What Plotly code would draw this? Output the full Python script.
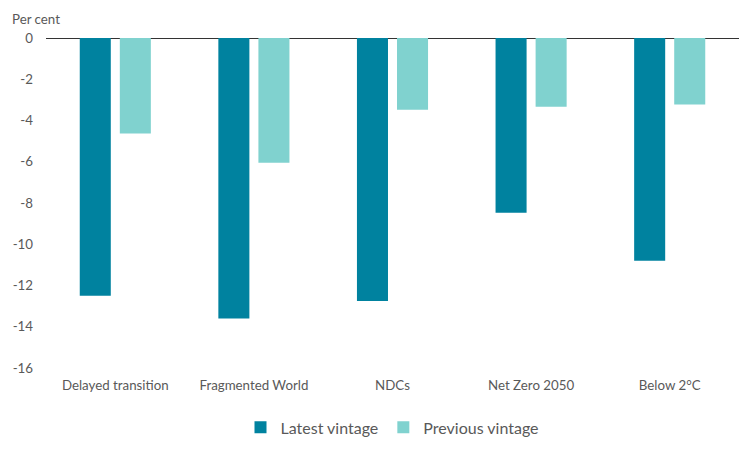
import plotly.graph_objects as go

# Scenario categories and the two vintages (per cent)
scenarios = ["Delayed transition", "Fragmented World", "NDCs", "Net Zero 2050", "Below 2°C"]
latest_vintage = [-12.5, -13.6, -12.75, -8.47, -10.8]
previous_vintage = [-4.63, -6.05, -3.48, -3.33, -3.23]
y_ticks = [0, -2, -4, -6, -8, -10, -12, -14, -16]

fig = go.Figure()
fig.add_trace(go.Bar(x=scenarios, y=latest_vintage, name="Latest vintage",
                     marker=dict(color="#00829F", line=dict(width=0))))
fig.add_trace(go.Bar(x=scenarios, y=previous_vintage, name="Previous vintage",
                     marker=dict(color="#80D2CF", line=dict(width=0))))

# page body has an 8px margin, so the figure is sized to fit inside the window
fig.update_layout(
    width=740, height=434,
    margin=dict(l=38, r=9, t=30, b=74, autoexpand=False),
    paper_bgcolor="white", plot_bgcolor="white",
    font=dict(family="Lato", size=13, color="#595959"),
    barmode="group", bargap=0.422, bargroupgap=0.225,
    showlegend=True,
    legend=dict(orientation="h", x=0.5, xanchor="center", y=-0.18, yanchor="middle",
                font=dict(size=16), itemwidth=30, traceorder="normal"),
    annotations=[dict(text="Per cent", xref="paper", yref="paper", x=-0.052, y=1.0,
                      xanchor="left", yanchor="bottom", yshift=9, showarrow=False,
                      font=dict(size=13.3, color="#595959"))],
)
fig.update_xaxes(showgrid=False, showline=False, ticks="", ticklabelstandoff=8,
                 tickfont=dict(size=13.3))
fig.update_yaxes(range=[-16, 0], tickvals=y_ticks, ticktext=[str(v) for v in y_ticks],
                 showgrid=False, zeroline=True,
                 zerolinecolor="#333333", zerolinewidth=1.2, showline=False,
                 ticklabelstandoff=12, tickfont=dict(size=13.3))
fig.update_xaxes(anchor="free", position=0)

fig.write_html("out.html")
